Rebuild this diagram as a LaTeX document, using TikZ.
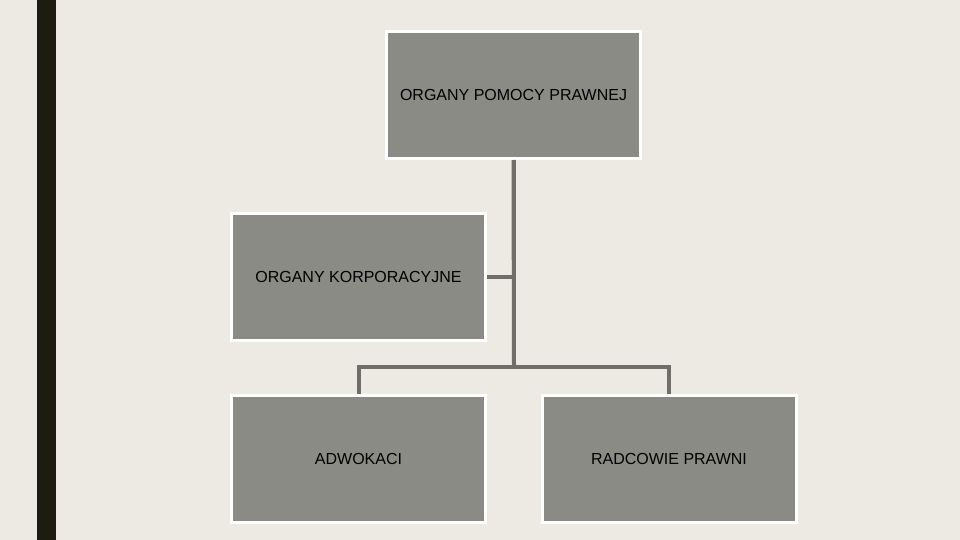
\documentclass[tikz,border=0pt]{standalone}
\usepackage{fontspec}
\setmainfont{Liberation Sans}
\usetikzlibrary{positioning}
\definecolor{paper}{HTML}{EDEAE3}
\definecolor{sidebar}{HTML}{1C1D10}
\definecolor{boxgray}{HTML}{8B8B86}
\definecolor{linegray}{HTML}{6F6E68}
\tikzset{orgbox/.style={rectangle,draw=white,fill=boxgray,line width=3pt,minimum width=254pt,minimum height=127pt,inner sep=0pt,font=\fontsize{16}{19}\selectfont}}
\tikzset{link/.style={draw=linegray,line width=4pt,line join=miter}}

\begin{document}
\begin{tikzpicture}[x=1pt,y=-1pt]
  \useasboundingbox (0,0) rectangle (960,540);
  \fill [paper] (0,0) rectangle (960,540);
  \fill [sidebar] (37,0) rectangle (56,540);

  \node [orgbox] (pomoc) at (513.5,95) {ORGANY POMOCY PRAWNEJ};
  \node [orgbox] (korp) at (358.5,276.5) {ORGANY KORPORACYJNE};
  \node [orgbox] (adw) at (358.5,459) {ADWOKACI};
  \node [orgbox] (radc) at (669,459) {RADCOWIE PRAWNI};
  \coordinate (split) at (514,367);

  \path [link] (pomoc.south) |- (korp.east);
  \path [link] (pomoc.south) -- (split);
  \path [link] (adw.north) |- (split) -| (radc.north);
\end{tikzpicture}
\end{document}
